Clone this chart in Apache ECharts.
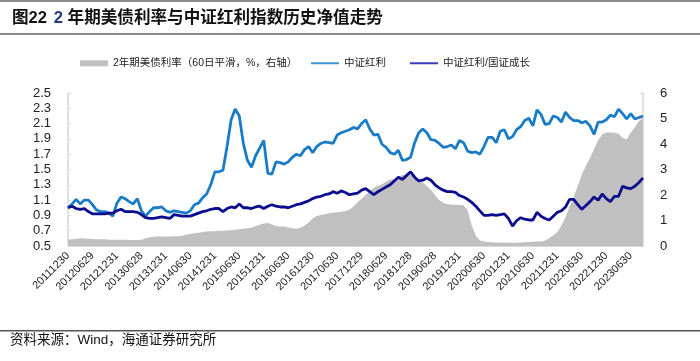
<!DOCTYPE html>
<html>
<head>
<meta charset="utf-8">
<script src="https://cdn.jsdelivr.net/npm/echarts@6/dist/echarts.min.js"></script>
<style>
html,body{margin:0;padding:0;background:#fff;}
#c{width:700px;height:361px;}
</style>
</head>
<body>
<div id="c"></div>
<script>
// Tick labels on the x axis (every 6 months)
const tickLabels = ['20111230','20120629','20121231','20130628','20131231','20140630','20141231','20150630','20151231','20160630','20161230','20170630','20171229','20180629','20181228','20190628','20191231','20200630','20201231','20210630','20211231','20220630','20221230','20230630'];

// Monthly points, Dec 2011 .. Sep 2023 (142 points)
const csiDividend = [
1.00,1.05,1.11,1.05,1.10,1.10,1.04,0.97,0.95,0.95,0.93,0.89,
1.06,1.14,1.12,1.08,1.05,1.12,0.96,0.89,0.95,1.00,1.00,1.01,
0.96,0.94,0.96,0.95,0.94,0.93,0.96,1.04,1.06,1.13,1.18,1.30,
1.47,1.47,1.49,1.80,2.15,2.29,2.20,1.84,1.62,1.53,1.68,1.78,
1.88,1.45,1.44,1.60,1.59,1.57,1.60,1.66,1.70,1.68,1.76,1.80,
1.72,1.80,1.84,1.86,1.85,1.84,1.95,1.98,2.00,2.02,2.05,2.03,
2.10,2.15,2.03,1.95,1.96,1.83,1.79,1.72,1.70,1.75,1.62,1.63,
1.66,1.85,1.98,2.03,1.98,1.89,1.88,1.84,1.79,1.80,1.82,1.77,
1.88,1.85,1.74,1.72,1.73,1.70,1.80,1.92,1.92,1.85,2.00,2.02,
1.90,1.93,2.02,2.06,2.14,2.17,2.07,2.28,2.22,2.09,2.10,2.20,
2.18,2.12,2.25,2.18,2.14,2.14,2.11,2.13,2.07,1.96,2.12,2.12,
2.15,2.21,2.19,2.29,2.23,2.16,2.23,2.16,2.18,2.20
];
const dividendVsGrowth = [
1.00,1.02,0.99,0.98,0.99,0.95,0.92,0.92,0.92,0.92,0.93,0.93,
0.96,0.98,0.95,0.95,0.95,0.94,0.91,0.87,0.86,0.86,0.87,0.88,
0.87,0.86,0.91,0.90,0.89,0.89,0.89,0.91,0.93,0.95,0.96,0.98,
0.99,0.99,0.95,0.99,1.01,1.00,1.05,1.00,1.00,0.99,1.01,1.02,
0.99,1.02,1.04,1.02,1.01,1.01,1.00,1.02,1.04,1.05,1.07,1.09,
1.12,1.14,1.15,1.17,1.18,1.21,1.19,1.22,1.20,1.17,1.18,1.19,
1.23,1.25,1.21,1.17,1.21,1.24,1.27,1.30,1.35,1.40,1.37,1.42,
1.47,1.40,1.35,1.36,1.39,1.36,1.30,1.26,1.23,1.21,1.21,1.20,
1.16,1.14,1.11,1.07,1.02,0.96,0.90,0.90,0.91,0.90,0.91,0.92,
0.86,0.76,0.83,0.87,0.85,0.84,0.84,0.94,0.89,0.86,0.84,0.89,
0.94,0.96,1.01,1.11,1.11,1.04,0.98,1.03,1.08,1.14,1.10,1.18,
1.12,1.08,1.15,1.15,1.28,1.26,1.25,1.28,1.33,1.39
];
const us2yYield = [
0.25,0.26,0.28,0.30,0.29,0.28,0.27,0.26,0.26,0.26,0.25,0.25,
0.25,0.25,0.25,0.24,0.24,0.24,0.25,0.30,0.34,0.36,0.37,0.37,
0.37,0.37,0.38,0.38,0.40,0.44,0.48,0.50,0.52,0.55,0.57,0.58,
0.58,0.60,0.60,0.61,0.62,0.64,0.66,0.68,0.70,0.72,0.78,0.83,
0.88,0.90,0.84,0.78,0.76,0.76,0.74,0.70,0.68,0.72,0.80,0.92,
1.08,1.18,1.22,1.25,1.28,1.30,1.32,1.34,1.37,1.42,1.55,1.72,
1.85,2.00,2.16,2.28,2.36,2.42,2.52,2.60,2.64,2.72,2.78,2.80,
2.78,2.72,2.60,2.48,2.35,2.20,2.00,1.80,1.70,1.65,1.62,1.62,
1.61,1.60,1.40,0.80,0.40,0.22,0.18,0.16,0.15,0.14,0.14,0.14,
0.13,0.13,0.13,0.14,0.15,0.16,0.17,0.18,0.18,0.22,0.30,0.42,
0.55,0.80,1.12,1.55,1.92,2.35,2.80,3.15,3.45,3.80,4.15,4.38,
4.45,4.45,4.44,4.40,4.25,4.18,4.45,4.65,4.90,5.00
];

const seriesNames = ['2年期美债利率（60日平滑，%，右轴）','中证红利','中证红利/国证成长'];

// Categories: month points; every 6th uses the tick label date
const categories = [];
for (let i = 0; i < csiDividend.length; i++) {
  if (i % 6 === 0 && tickLabels[i / 6]) { categories.push(tickLabels[i / 6]); }
  else {
    const m = 11 + i; const y = 2011 + Math.floor(m / 12); const mm = (m % 12) + 1;
    categories.push(String(y) + (mm < 10 ? '0' + mm : mm));
  }
}

const chart = echarts.init(document.getElementById('c'), null, {renderer: 'canvas'});
const numFont = 'Arial, "Liberation Sans", sans-serif';
const cjkFont = '"Liberation Sans", Arial, "Noto Sans CJK SC", sans-serif';
const legendText = {fontSize: 10.5, color: '#222', fontFamily: cjkFont};

chart.setOption({
  animation: false,
  backgroundColor: '#fff',
  grid: {left: 68, right: 57, top: 93, bottom: 115, containLabel: false},
  legend: [
    {
      top: 53, left: 75,
      itemWidth: 28, itemHeight: 6,
      textStyle: legendText,
      data: [{name: seriesNames[0], icon: 'rect'}]
    },
    {
      top: 53, left: 306,
      itemWidth: 28, itemHeight: 2, itemGap: 24,
      textStyle: legendText,
      data: [
        {name: seriesNames[1], icon: 'rect', itemStyle: {color: '#3d93d6'}},
        {name: seriesNames[2], icon: 'rect', itemStyle: {color: '#3b3bc0'}}
      ]
    }
  ],
  xAxis: {
    type: 'category',
    data: categories,
    boundaryGap: false,
    axisLine: {lineStyle: {color: '#d9d9d9', width: 1}},
    axisTick: {show: false},
    axisLabel: {interval: 5, rotate: 45, fontSize: 11, color: '#222', margin: 8, fontFamily: numFont},
    splitLine: {show: false}
  },
  yAxis: [
    {
      type: 'value', min: 0.5, max: 2.5, interval: 0.2,
      axisLine: {show: true, lineStyle: {color: '#d9d9d9', width: 1.5}},
      axisTick: {show: true, inside: true, length: 3, lineStyle: {color: '#d9d9d9'}},
      axisLabel: {fontSize: 13, color: '#222', margin: 17, fontFamily: numFont, formatter: v => v.toFixed(1)},
      splitLine: {show: false}
    },
    {
      type: 'value', min: 0, max: 6, interval: 1, position: 'right',
      axisLine: {show: true, lineStyle: {color: '#d9d9d9', width: 1.5}},
      axisTick: {show: true, inside: true, length: 3, lineStyle: {color: '#d9d9d9'}},
      axisLabel: {fontSize: 13, color: '#222', margin: 17, fontFamily: numFont},
      splitLine: {show: false}
    }
  ],
  series: [
    {
      name: seriesNames[0], type: 'line', yAxisIndex: 1, data: us2yYield,
      symbol: 'none', lineStyle: {width: 0, color: '#c0c0c0'},
      itemStyle: {color: '#c0c0c0'},
      areaStyle: {color: '#c0c0c0', opacity: 1}, z: 1
    },
    {
      name: seriesNames[1], type: 'line', yAxisIndex: 0, data: csiDividend,
      symbol: 'none', lineStyle: {width: 2.8, color: '#1a7bc7'},
      itemStyle: {color: '#1a7bc7'}, z: 2
    },
    {
      name: seriesNames[2], type: 'line', yAxisIndex: 0, data: dividendVsGrowth,
      symbol: 'none', lineStyle: {width: 2.8, color: '#0c0c8e'},
      itemStyle: {color: '#0c0c8e'}, z: 3
    }
  ],
  graphic: [
    {type: 'rect', shape: {x: 0, y: 0, width: 700, height: 2}, style: {fill: '#8a8a8a'}},
    {type: 'rect', shape: {x: 0, y: 33, width: 700, height: 2}, style: {fill: '#8a8a8a'}},
    {type: 'text', left: 12, top: 10, style: {
      text: '{a|图22}  {b|2}{a| 年期美债利率与中证红利指数历史净值走势}',
      rich: {
        a: {fontSize: 16.6, fontWeight: 'bold', fill: '#111', fontFamily: cjkFont},
        b: {fontSize: 16.6, fontWeight: 'bold', fill: '#1f3a78', fontFamily: cjkFont}
      }
    }},
    {type: 'rect', shape: {x: 0, y: 330, width: 700, height: 1.5}, style: {fill: '#555'}},
    {type: 'text', left: 10, top: 334, style: {
      text: '资料来源：Wind，海通证券研究所', fontSize: 13.5, fill: '#111', fontFamily: cjkFont
    }}
  ]
});
</script>
</body>
</html>
